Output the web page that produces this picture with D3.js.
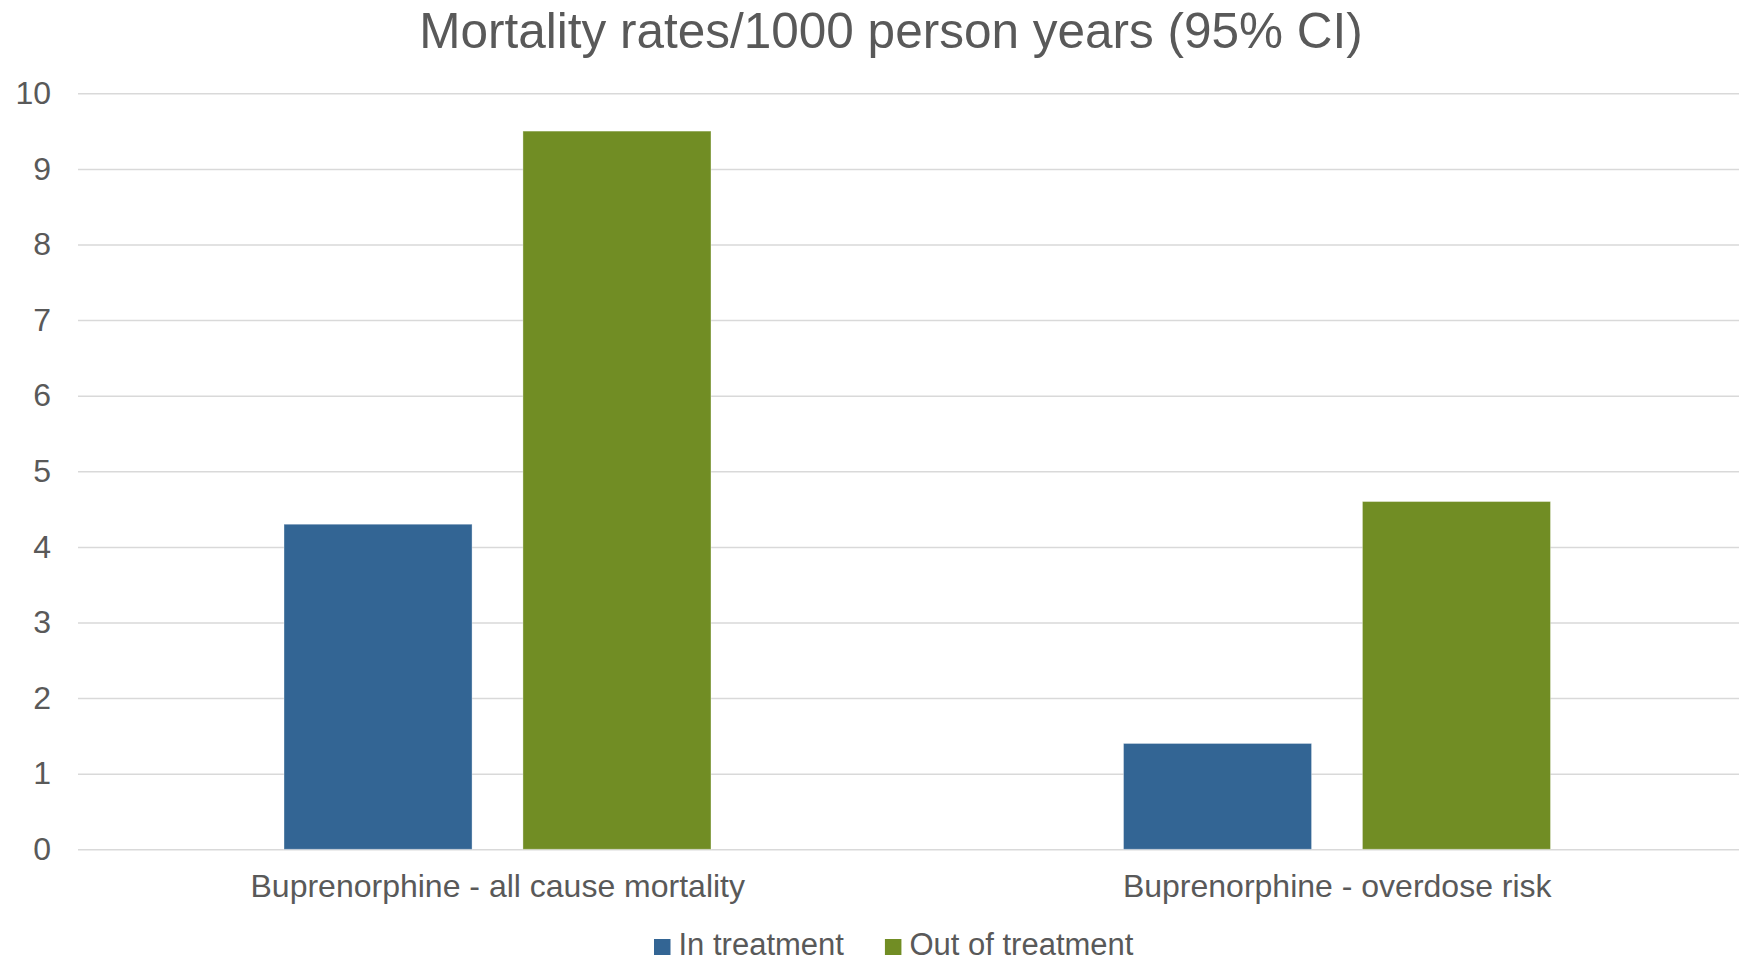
<!DOCTYPE html>
<html>
<head>
<meta charset="utf-8">
<script src="https://cdn.jsdelivr.net/npm/d3@7"></script>
<style>
  html, body { margin: 0; padding: 0; background: #ffffff; }
  svg { display: block; }
  text { font-family: Arial, "Liberation Sans", sans-serif; fill: #595959; }
</style>
</head>
<body>
<svg id="chart" width="1739" height="962"></svg>
<script>
// Mortality rates per 1000 person years
const categories = ["Buprenorphine - all cause mortality", "Buprenorphine - overdose risk"];
const seriesNames = ["In treatment", "Out of treatment"];
const inTreatment = [4.3, 1.4];
const outOfTreatment = [9.5, 4.6];
const yTicks = [0, 1, 2, 3, 4, 5, 6, 7, 8, 9, 10];
const titleText = "Mortality rates/1000 person years (95% CI)";

const seriesValues = [inTreatment, outOfTreatment];
const colors = ["#336594", "#718D24"];

const W = 1739, H = 962;
const plot = { left: 78, right: 1757, top: 93.3, bottom: 849.3 };

const svg = d3.select("#chart");

const y = d3.scaleLinear().domain([0, 10]).range([plot.bottom, plot.top]);
const x0 = d3.scaleBand().domain(categories).range([plot.left, plot.right]).padding(0);
const bw = x0.bandwidth();
const x1 = d3.scaleBand().domain(seriesNames)
  .range([bw * 0.2454, bw * 0.754]).paddingInner(0.213).paddingOuter(0);

// Title
svg.append("text")
  .attr("x", 891).attr("y", 48)
  .attr("text-anchor", "middle")
  .style("font-size", "49.5px")
  .text(titleText);

// Gridlines and value axis
const yAxis = svg.append("g")
  .attr("transform", `translate(${plot.left},0)`)
  .call(d3.axisLeft(y).tickValues(yTicks).tickSize(-(plot.right - plot.left)).tickPadding(27).tickFormat(d3.format("d")));
yAxis.select(".domain").remove();
yAxis.selectAll(".tick line").attr("stroke", "#d9d9d9").attr("stroke-width", 1.5);
yAxis.selectAll(".tick text").style("font-size", "32px").attr("fill", "#595959");

// Bars
const rows = categories.map((c, i) => ({ cat: c, vals: seriesNames.map((s, j) => ({ s, j, v: seriesValues[j][i] })) }));
const groups = svg.append("g").selectAll("g").data(rows).join("g")
  .attr("transform", d => `translate(${x0(d.cat)},0)`);
groups.selectAll("rect").data(d => d.vals).join("rect")
  .attr("x", d => x1(d.s))
  .attr("y", d => y(d.v))
  .attr("width", x1.bandwidth())
  .attr("height", d => y(0) - y(d.v))
  .attr("fill", d => colors[d.j])
  .attr("stroke", "#ffffff").attr("stroke-opacity", 0.35).attr("stroke-width", 1);

// Category axis
const xAxis = svg.append("g")
  .attr("transform", `translate(0,${plot.bottom})`)
  .call(d3.axisBottom(x0).tickSize(0).tickPadding(0));
xAxis.select(".domain").remove();
xAxis.selectAll(".tick text")
  .attr("y", 47.5).attr("dy", null)
  .style("font-size", "32px").attr("fill", "#595959");

// Legend
const legend = svg.append("g").attr("transform", "translate(654,955)");
let lx = 0;
seriesNames.forEach((name, i) => {
  legend.append("rect").attr("x", lx).attr("y", -16).attr("width", 16.5).attr("height", 16)
    .attr("fill", colors[i]);
  const t = legend.append("text").attr("x", lx + 24.5).attr("y", 0)
    .style("font-size", "31px").text(name);
  lx += 24.5 + t.node().getComputedTextLength() + 41;
});
</script>
</body>
</html>
